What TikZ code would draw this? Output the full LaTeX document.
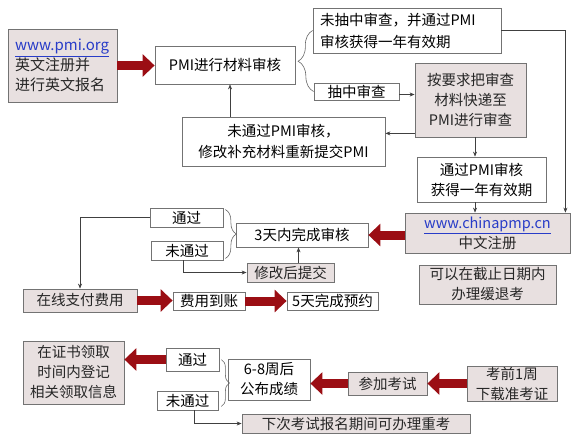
\documentclass[tikz,border=0pt]{standalone}
\usepackage{fontspec}
\setmainfont{Noto Sans CJK SC}
\usepackage{tikz}
\usetikzlibrary{arrows.meta, decorations.pathreplacing}
\definecolor{boxgray}{RGB}{232,224,224}
\definecolor{darkred}{RGB}{155,14,20}
\definecolor{urlblue}{RGB}{40,60,200}
\tikzstyle{arrow} = [black!75, line width=0.6pt, -{Stealth[length=5pt,width=4pt]}]
\tikzstyle{bigarrow} = [line width=9pt, draw=darkred, -{Triangle[length=12pt,width=22pt]}]
\tikzstyle{plainbox} = [rectangle, draw=black!55, line width=0.8pt, fill=white, inner sep=0pt, align=center, font=\fontsize{14.5}{20}\selectfont]
\tikzstyle{fillbox} = [plainbox, fill=boxgray, text=black!85]
\tikzstyle{brace} = [decorate, decoration={brace}, black!60, line width=0.6pt]

\begin{document}
\begin{tikzpicture}[x=1pt, y=-1pt]
		\useasboundingbox (0,0) rectangle (580,444);
		\node (pmiorg) [fillbox, minimum width=109pt, minimum height=73pt, text width=95pt, inner sep=7pt, align=left, font=\fontsize{15}{20}\selectfont] at (62.5,65.5) {\textcolor{urlblue}{\underline{www.pmi.org}}\\英文注册并\\进行英文报名};
		\node (review) [plainbox, minimum width=140pt, minimum height=38pt] at (225,65) {PMI进行材料审核};
		\node (notdrawn) [plainbox, minimum width=188pt, minimum height=45pt, text width=174pt, inner xsep=7pt, align=left, font=\fontsize{14.5}{22}\selectfont] at (407,30.5) {未抽中审查，并通过PMI\\审核获得一年有效期};
		\node (drawn) [plainbox, minimum width=85pt, minimum height=17pt] at (356.5,91.5) {抽中审查};
		\node (mail) [fillbox, minimum width=111pt, minimum height=74pt] at (470.5,100) {按要求把审查\\材料快递至\\PMI进行审查};
		\node (resubmit) [plainbox, minimum width=203pt, minimum height=49pt, font=\fontsize{14.5}{21}\selectfont] at (283.5,141.5) {未通过PMI审核，\\修改补充材料重新提交PMI};
		\node (pass) [plainbox, minimum width=129pt, minimum height=45pt] at (481.5,179.5) {通过PMI审核\\获得一年有效期};
		\node (china) [fillbox, minimum width=165pt, minimum height=40pt] at (487.5,233) {\textcolor{urlblue}{\underline{www.chinapmp.cn}}\\中文注册};
		\node (defer) [fillbox, minimum width=137pt, minimum height=39pt] at (487.5,284.5) {可以在截止日期内\\办理缓退考};
		\node (check3) [plainbox, minimum width=132pt, minimum height=24pt] at (302,235) {3天内完成审核};
		\node (ok1) [plainbox, minimum width=73pt, minimum height=19pt] at (186.5,217.5) {通过};
		\node (fail1) [plainbox, minimum width=72pt, minimum height=19pt] at (187,250.5) {未通过};
		\node (modify) [fillbox, minimum width=87pt, minimum height=19pt] at (290.5,272.5) {修改后提交};
		\node (pay) [fillbox, minimum width=114pt, minimum height=23pt] at (80,300.5) {在线支付费用};
		\node (paid) [plainbox, minimum width=72pt, minimum height=18pt] at (209,301) {费用到账};
		\node (book) [plainbox, minimum width=91pt, minimum height=18pt] at (332.5,301) {5天完成预约};
		\node (cert) [fillbox, minimum width=101pt, minimum height=63pt] at (73.5,372.5) {在证书领取\\时间内登记\\相关领取信息};
		\node (ok2) [plainbox, minimum width=53pt, minimum height=23pt] at (192.5,359.5) {通过};
		\node (fail2) [plainbox, minimum width=61pt, minimum height=19pt] at (187.5,400.5) {未通过};
		\node (result) [plainbox, minimum width=82pt, minimum height=41pt] at (269,379.5) {6-8周后\\公布成绩};
		\node (retake) [fillbox, minimum width=228pt, minimum height=19pt] at (356,423.5) {下次考试报名期间可办理重考};
		\node (exam) [fillbox, minimum width=79pt, minimum height=23pt] at (387.5,383.5) {参加考试};
		\node (admit) [fillbox, minimum width=90pt, minimum height=35pt] at (512,383.5) {考前1周\\下载准考证};

		\coordinate (dre) at ([yshift=-3pt]drawn.east);
		\coordinate (mlw) at ([yshift=4pt]mail.south west);
		\coordinate (rsup) at ([xshift=5pt]review.south);
		\coordinate (mlow) at ([xshift=4.5pt]mail.south);
		\coordinate (chup) at ([xshift=-5pt]china.north east);
		\coordinate (mdup) at ([xshift=8pt]modify.north);

		\draw [bigarrow] (pmiorg.east) -- (pmiorg.east -| review.west);
		\draw [brace, decoration={amplitude=15pt}] (drawn.west) -- (notdrawn.west);
		\draw [arrow] (dre) -- (dre -| mail.west);
		\draw [arrow] (mlw) -- (mlw -| resubmit.east);
		\draw [arrow] (rsup |- resubmit.north) -- (rsup);
		\draw [arrow] (mlow) -- (mlow |- pass.north);
		\draw [arrow] (mlow |- pass.south) -- (mlow |- china.north);
		\draw [arrow] (notdrawn.east) -| (chup);
		\draw [bigarrow] (check3.east -| china.west) -- (check3.east);
		\draw [brace, decoration={amplitude=11pt}] ([xshift=2pt,yshift=-2pt]ok1.north east) -- ([xshift=2pt,yshift=2pt]fail1.south east);
		\draw [arrow] (mdup) -- (mdup |- check3.south);
		\draw [arrow] ([xshift=-4pt]fail1.south) |- (modify.west);
		\draw [arrow] (ok1.west) -| (pay.north);
		\draw [bigarrow] (pay.east) -- (pay.east -| paid.west);
		\draw [bigarrow] (paid.east) -- (paid.east -| book.west);
		\draw [bigarrow] (ok2.west) -- (ok2.west -| cert.east);
		\draw [brace, decoration={amplitude=8pt}] ([xshift=2pt,yshift=-12pt]ok2.north east) -- ([xshift=3pt,yshift=4pt]fail2.south east);
		\draw [arrow] ([xshift=7pt]fail2.south) |- (retake.west);
		\draw [bigarrow] (exam.west) -- (exam.west -| result.east);
		\draw [bigarrow] (admit.west) -- (admit.west -| exam.east);
	\end{tikzpicture}
\end{document}
